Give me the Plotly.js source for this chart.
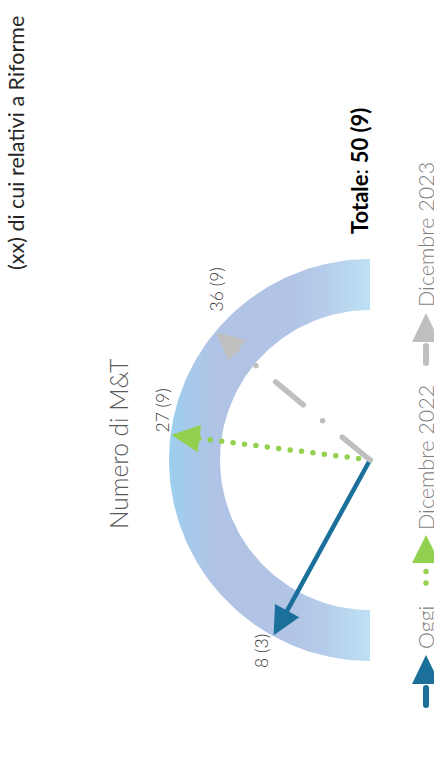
<!DOCTYPE html>
<html><head><meta charset="utf-8">
<script src="https://cdn.plot.ly/plotly-3.0.1.min.js"></script>
<style>
html,body{margin:0;padding:0;background:#fff;}
.scatterlayer .js-line{stroke-linecap:round;}
</style></head>
<body><div id="chart" style="width:434px;height:765px;"></div>
<script>
// ---- data ----
const series = ['Oggi', 'Dicembre 2022', 'Dicembre 2023'];
const values = [8, 27, 36];
const reformValues = [3, 9, 9];
const total = 50;
const totalReform = 9;
const titleText = '(xx) di cui relativi a Riforme';
const gaugeTitle = 'Numero di M&T';

// ---- style ----
const seriesColors = ['#1b6f9b', '#92d050', '#bfbfbf'];
const seriesDash = ['solid', '0px,11.5px', '36px,25.5px,0px,25px'];
const seriesWidth = [4.5, 5.5, 5.5];
const labelShift = [[-12, -16], [-9, 24], [1, 43]]; // px offsets of value labels from tips
const legendY = [[655, 684, 705, 628], [535, 563, 583, 458], [313, 342, 363, 235]]; // tip, base, tail, text (px)

const W = 434, H = 765, S = 200, CX = 370, CY = 460;
const xr = [-CX / S, (W - CX) / S];
const yr = [-(H - CY) / S, CY / S];
const toX = px => xr[0] + px / S;
const toY = py => yr[1] - py / S;

const R_OUT = 1.005, R_IN = 0.75, R_TIP = 1.0, HEAD_LEN = 0.14, HEAD_HW = 0.069;
const dirOf = v => { const p = v / total * Math.PI; return [-Math.sin(p), -Math.cos(p)]; };

const traces = [];
// ring
const rx = [], ry = [];
for (let a = 0; a <= 180; a++) { const p = a * Math.PI / 180; rx.push(-Math.sin(p) * R_OUT); ry.push(-Math.cos(p) * R_OUT); }
for (let a = 180; a >= 0; a--) { const p = a * Math.PI / 180; rx.push(-Math.sin(p) * R_IN); ry.push(-Math.cos(p) * R_IN); }
traces.push({
  x: rx, y: ry, mode: 'lines', fill: 'toself', line: {width: 0}, hoverinfo: 'skip',
  fillgradient: {type: 'horizontal', colorscale: [[0, '#9ccfee'], [0.12, '#a9c8ea'], [0.25, '#b0c3e5'], [0.6, '#b1c4e6'], [0.78, '#b6cdea'], [1, '#bde1f5']]}
});

function head(tip, d, color) {
  const bx = tip[0] - d[0] * HEAD_LEN, by = tip[1] - d[1] * HEAD_LEN;
  const px = -d[1], py = d[0];
  return {x: [tip[0], bx + px * HEAD_HW, bx - px * HEAD_HW, tip[0]], y: [tip[1], by + py * HEAD_HW, by - py * HEAD_HW, tip[1]],
    mode: 'lines', fill: 'toself', fillcolor: color, line: {width: 0}, hoverinfo: 'skip'};
}

const order = [1, 0, 2];
order.forEach(i => {
  const d = dirOf(values[i]);
  const tip = [d[0] * R_TIP, d[1] * R_TIP];
  const end = R_TIP - HEAD_LEN * 0.7;
  traces.push({x: [0, d[0] * end], y: [0, d[1] * end], mode: 'lines', hoverinfo: 'skip',
    line: {color: seriesColors[i], width: seriesWidth[i], dash: seriesDash[i]}});
  traces.push(head(tip, d, seriesColors[i]));
});

// legend icons
const LX = 426;
series.forEach((s, i) => {
  const [tipY, baseY, tailY] = legendY[i];
  traces.push({x: [toX(LX), toX(LX)], y: [toY(tailY), toY(baseY + 4)], mode: 'lines', hoverinfo: 'skip',
    line: {color: seriesColors[i], width: i === 1 ? 5.5 : 6, dash: i === 1 ? '0px,11.5px' : 'solid'}});
  const hw = 14 / S;
  traces.push({x: [toX(LX), toX(LX) - hw, toX(LX) + hw, toX(LX)], y: [toY(tipY), toY(baseY), toY(baseY), toY(tipY)],
    mode: 'lines', fill: 'toself', fillcolor: seriesColors[i], line: {width: 0}, hoverinfo: 'skip'});
});

const F = 'Lato, "Open Sans", sans-serif';
const ann = [];
ann.push({x: toX(16), y: toY(143), text: titleText, textangle: -90, showarrow: false, font: {family: F, size: 21.5, color: '#262626'}});
ann.push({x: toX(359), y: toY(171), text: '<b>Totale</b>: <b>' + total + ' (' + totalReform + ')</b>', textangle: -90, showarrow: false, font: {family: F, size: 22, color: '#000'}});
ann.push({x: toX(118), y: toY(444), text: gaugeTitle.replace('&', '&amp;'), textangle: -90, showarrow: false, font: {family: F, size: 24.5, color: '#595959', weight: 300}});
values.forEach((v, i) => {
  const d = dirOf(v);
  ann.push({x: d[0] * R_TIP, y: d[1] * R_TIP, xshift: labelShift[i][0], yshift: labelShift[i][1],
    text: v + ' (' + reformValues[i] + ')', textangle: -90, showarrow: false, font: {family: F, size: 17.5, color: '#404040', weight: 300}});
});
series.forEach((s, i) => {
  ann.push({x: toX(LX), y: toY(legendY[i][3]), text: s, textangle: -90, showarrow: false, font: {family: F, size: 21.5, color: '#7f7f7f', weight: 300}});
});

const layout = {
  width: W, height: H, margin: {l: 0, r: 0, t: 0, b: 0}, showlegend: false,
  paper_bgcolor: '#fff', plot_bgcolor: '#fff',
  xaxis: {range: xr, visible: false, fixedrange: true},
  yaxis: {range: yr, visible: false, fixedrange: true},
  annotations: ann
};
Plotly.newPlot('chart', traces, layout, {displayModeBar: false, staticPlot: true});
</script></body></html>
